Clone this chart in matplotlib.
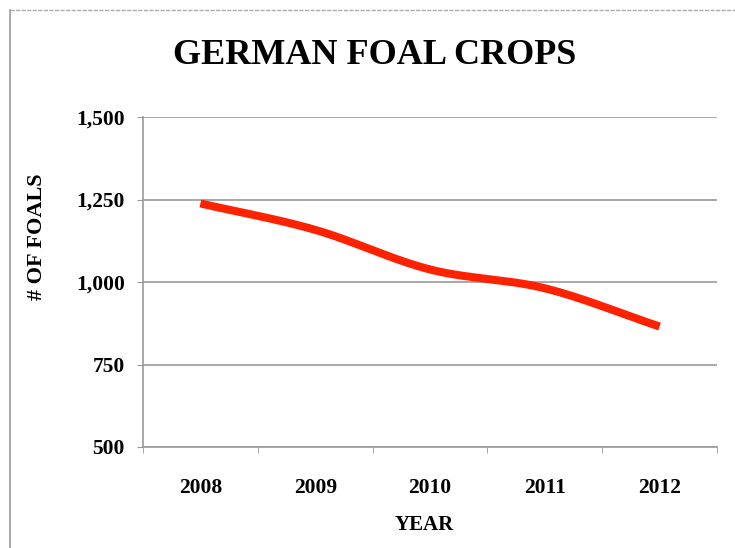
import numpy as np
import matplotlib
matplotlib.use("Agg")
import matplotlib.pyplot as plt
from matplotlib.lines import Line2D

years = ["2008", "2009", "2010", "2011", "2012"]
foals = [1238, 1158, 1038, 981, 865]
yticks = [500, 750, 1000, 1250, 1500]
ytick_labels = ["500", "750", "1,000", "1,250", "1,500"]
title = "GERMAN FOAL CROPS"
xlabel = "YEAR"
ylabel = "# OF FOALS"

SERIF = ["Liberation Serif", "DejaVu Serif"]

def catmull_rom(x, y, n=40):
    x = np.asarray(x, float); y = np.asarray(y, float)
    px = np.concatenate([[2*x[0]-x[1]], x, [2*x[-1]-x[-2]]])
    py = np.concatenate([[2*y[0]-y[1]], y, [2*y[-1]-y[-2]]])
    xs, ys = [], []
    for i in range(1, len(px)-2):
        t = np.linspace(0, 1, n)
        for P, out in ((px, xs), (py, ys)):
            p0, p1, p2, p3 = P[i-1], P[i], P[i+1], P[i+2]
            out.extend(0.5*((2*p1) + (-p0+p2)*t + (2*p0-5*p1+4*p2-p3)*t**2 + (-p0+3*p1-3*p2+p3)*t**3))
    return np.array(xs), np.array(ys)

fig = plt.figure(figsize=(7.35, 5.48), dpi=100)
ax = fig.add_axes([143/735, 1-447/548, (717-143)/735, (447-117)/548])

xpos = np.arange(len(years))
sx, sy = catmull_rom(xpos, foals)
ax.plot(sx, sy, color="#FF2200", lw=5.8, solid_capstyle="butt", zorder=3)

ax.set_xlim(-0.5, len(years)-0.5)
ax.set_ylim(yticks[0], yticks[-1])
ax.set_yticks(yticks)
ax.set_yticklabels(ytick_labels, fontfamily=SERIF, fontweight="bold", fontsize=15.5)
ax.set_xticks(xpos)
ax.set_xticklabels(years, fontfamily=SERIF, fontweight="bold", fontsize=15.5)
ax.set_xticks(np.arange(-0.5, len(years)), minor=True)
ax.tick_params(axis="x", which="major", length=0, pad=22)
ax.tick_params(axis="x", which="minor", length=4, color="#999999", direction="out")
ax.tick_params(axis="y", length=4, color="#999999", direction="out", pad=9)
ax.grid(axis="y", color="#999999", lw=1.2)
for s in ["top", "right"]:
    ax.spines[s].set_visible(False)
ax.spines["left"].set_color("#999999")
ax.spines["bottom"].set_color("#999999")
ax.spines["left"].set_linewidth(1.2)
ax.spines["bottom"].set_linewidth(1.2)

fig.text(375/735, 1-56/548, title, ha="center", va="center", fontfamily=SERIF,
         fontweight="bold", fontsize=26)
fig.text(37/735, 1-237/548, ylabel, ha="center", va="center", rotation=90,
         fontfamily=SERIF, fontweight="bold", fontsize=16)
fig.text(424/735, 1-525/548, xlabel, ha="center", va="center", fontfamily=SERIF,
         fontweight="bold", fontsize=15)

# frame of the original screenshot
fig.add_artist(Line2D([10/735, 1], [1-10/548]*2, transform=fig.transFigure,
                      color="#aaaaaa", lw=1, ls=(0, (3, 1))))
fig.add_artist(Line2D([10/735]*2, [0, 1-10/548], transform=fig.transFigure,
                      color="#999999", lw=1.2))

fig.savefig("out.png", dpi=100)
